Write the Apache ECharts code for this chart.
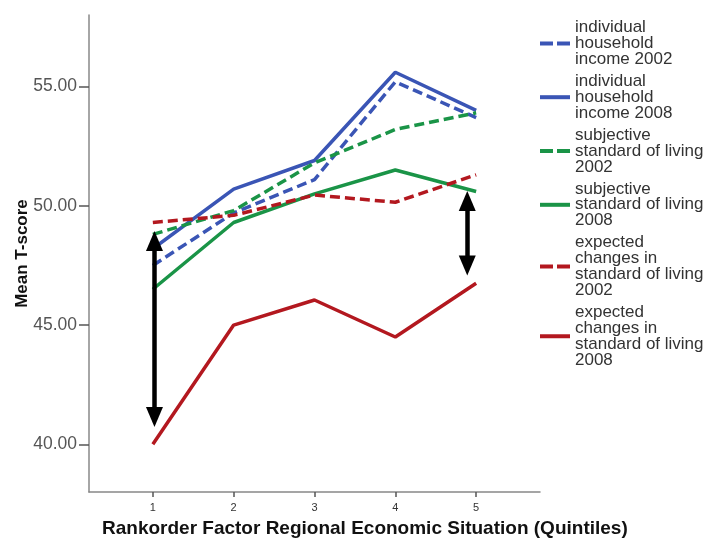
<!DOCTYPE html>
<html>
<head>
<meta charset="utf-8">
<script src="https://cdn.jsdelivr.net/npm/echarts@6/dist/echarts.min.js"></script>
<style>
html,body{margin:0;padding:0;background:#fff;}
#main{width:705px;height:541px;}
</style>
</head>
<body>
<div id="main"></div>
<script>
// Quintiles (x positions)
var quintiles = [1, 2, 3, 4, 5];
var yTicks = [40, 45, 50, 55];

var seriesNames = [
  'individual\nhousehold\nincome 2002',
  'individual\nhousehold\nincome 2008',
  'subjective\nstandard of living\n2002',
  'subjective\nstandard of living\n2008',
  'expected\nchanges in\nstandard of living\n2002',
  'expected\nchanges in\nstandard of living\n2008'
];

var income2002 = [47.5, 49.7, 51.1, 55.2, 53.7];
var income2008 = [48.2, 50.7, 51.9, 55.6, 54.0];
var subjective2002 = [48.8, 49.8, 51.8, 53.2, 53.9];
var subjective2008 = [46.5, 49.3, 50.5, 51.5, 50.6];
var expected2002 = [49.3, 49.6, 50.45, 50.15, 51.3];
var expected2008 = [40.0, 45.0, 46.05, 44.5, 46.75];

// double-headed arrows: [x, yTop, yBottom]
var arrow1 = [1.02, 48.97, 40.69];
var arrow2 = [4.89, 50.65, 47.05];

var FONT = '"Liberation Sans", Arial, sans-serif';
var BLUE = '#3A55B5', GREEN = '#1A9447', RED = '#B3181F';
var DASH_ICON = 'path://M0,0h13v4h-13z M17,0h13v4h-13z';
var SOLID_ICON = 'path://M0,0h30v4h-30z';

function pts(vals) { return quintiles.map(function (q, i) { return [q, vals[i]]; }); }

var styles = [
  {color: BLUE, type: [10, 5], icon: DASH_ICON},
  {color: BLUE, type: 'solid', icon: SOLID_ICON},
  {color: GREEN, type: [10, 5], icon: DASH_ICON},
  {color: GREEN, type: 'solid', icon: SOLID_ICON},
  {color: RED, type: [10, 5], icon: DASH_ICON},
  {color: RED, type: 'solid', icon: SOLID_ICON}
];
var allData = [income2002, income2008, subjective2002, subjective2008, expected2002, expected2008];

var series = allData.map(function (vals, i) {
  return {
    name: seriesNames[i],
    type: 'line',
    data: pts(vals),
    symbol: 'none',
    silent: true,
    color: styles[i].color,
    lineStyle: {color: styles[i].color, width: 3.5, type: styles[i].type},
    z: 2
  };
});

var HEAD = 0.45; // arrowhead half-length in data units
series[5].markLine = {
  silent: true,
  symbol: ['triangle', 'triangle'],
  symbolSize: [17, 20],
  label: {show: false},
  emphasis: {disabled: true},
  lineStyle: {color: '#000', width: 4.5, type: 'solid'},
  itemStyle: {color: '#000'},
  z: 10,
  data: [
    [{coord: [arrow1[0], arrow1[1] - HEAD]}, {coord: [arrow1[0], arrow1[2] + HEAD]}],
    [{coord: [arrow2[0], arrow2[1] - HEAD]}, {coord: [arrow2[0], arrow2[2] + HEAD]}]
  ]
};

var chart = echarts.init(document.getElementById('main'));
chart.setOption({
  animation: false,
  backgroundColor: '#fff',
  textStyle: {fontFamily: FONT},
  grid: {left: 89, top: 15, right: 165, bottom: 49, containLabel: false, outerBoundsMode: 'none'},
  legend: {
    orient: 'vertical',
    left: 535,
    top: 14,
    itemWidth: 30,
    itemHeight: 4,
    itemGap: 5,
    selectedMode: false,
    textStyle: {fontFamily: FONT, fontSize: 17, lineHeight: 15.9, color: '#333'},
    data: seriesNames.map(function (n, i) {
      return {name: n, icon: styles[i].icon, itemStyle: {color: styles[i].color, borderWidth: 0}};
    })
  },
  xAxis: {
    type: 'value',
    min: 0.21,
    max: 5.79,
    splitLine: {show: false},
    axisLine: {show: true, onZero: false, lineStyle: {color: '#888', width: 1.5}},
    axisTick: {show: true, customValues: quintiles, length: 5, lineStyle: {color: '#555', width: 1.5}},
    axisLabel: {customValues: quintiles, fontSize: 11, color: '#333', margin: 10, fontFamily: FONT}
  },
  yAxis: {
    type: 'value',
    min: 38,
    max: 58,
    name: 'Mean T-score',
    nameLocation: 'middle',
    nameGap: 58,
    nameMoveOverlap: false,
    nameTextStyle: {fontSize: 17, fontWeight: 'bold', color: '#111', fontFamily: FONT},
    splitLine: {show: false},
    axisLine: {show: true, lineStyle: {color: '#888', width: 1.5}},
    axisTick: {show: true, customValues: yTicks, length: 10, lineStyle: {color: '#555', width: 1.5}},
    axisLabel: {customValues: yTicks, fontSize: 17.5, color: '#555', margin: 12, fontFamily: FONT,
      formatter: function (v) { return v.toFixed(2); }}
  },
  graphic: [{
    type: 'text',
    left: 102,
    top: 519,
    style: {text: 'Rankorder Factor Regional Economic Situation (Quintiles)', font: 'bold 19px ' + FONT, fill: '#111'}
  }],
  series: series
});
</script>
</body>
</html>
